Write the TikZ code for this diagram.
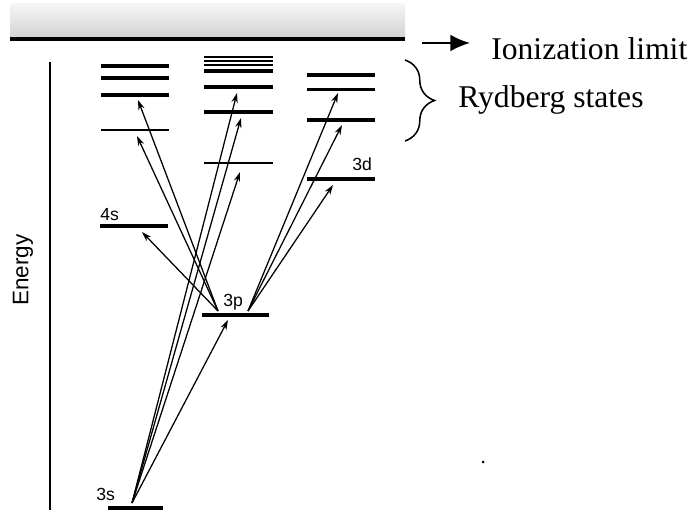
\documentclass[tikz,border=0pt]{standalone}
\usepackage{fontspec}
\setmainfont{Liberation Serif}
\setsansfont{Liberation Sans}
\usetikzlibrary{arrows.meta, decorations.pathreplacing}
\tikzset{
  level/.style={line width=2.6pt},
  thinlevel/.style={line width=1.5pt},
  transition/.style={line width=0.9pt, -{Stealth[length=7pt, width=4.5pt]}},
  statelabel/.style={font=\sffamily\fontsize{12.5}{12.5}\selectfont, inner sep=0pt, anchor=base west},
  sidetext/.style={font=\fontsize{22.5}{26}\selectfont, inner sep=0pt, anchor=base west}
}

\begin{document}
\begin{tikzpicture}[x=0.025cm, y=-0.025cm]
  \useasboundingbox (0,0) rectangle (694,510);

  % ── Continuum and ionization limit ──────────────────────────────
  \shade[top color=gray!8, bottom color=gray!35] (10,4) rectangle (405,38);
  \draw[line width=2.6pt] (10,39) -- (405,39);

  % ── Energy axis ─────────────────────────────────────────────────
  \draw[line width=1.1pt] (50,62) -- (50,510);
  \node[font=\sffamily\fontsize{16}{16}\selectfont, rotate=90] (energy) at (23,270) {Energy};

  % ── Levels: s column, p column, d column ────────────────────────
  \foreach \y in {66,78,95}   { \draw[level] (101,\y) -- (169,\y); }
  \draw[thinlevel] (101,130) -- (169,130);
  \draw[level]     (100,226) -- (168,226);
  \foreach \y in {57,61,65} { \draw[line width=1.7pt] (204,\y) -- (273,\y); }
  \foreach \y in {71,87,112} { \draw[level] (204,\y) -- (273,\y); }
  \draw[thinlevel] (204,163) -- (273,163);
  \foreach \y in {75,89.5,120,179} { \draw[level] (307,\y) -- (375,\y); }
  \draw[level] (202,315) -- (269,315);
  \draw[line width=3pt] (108,508) -- (163,508);

  \foreach \lbl/\x/\y in {4s/100/221, 3s/96/500, 3p/223/306, 3d/352/171}
    { \node[statelabel] (lbl\lbl) at (\x,\y) {\lbl}; }

  % ── Transitions ─────────────────────────────────────────────────
  \coordinate (from3s)  at (132,503);
  \coordinate (from3pL) at (218,311);
  \coordinate (from3pR) at (248,311);
  \foreach \name/\x/\y in {to3p/228/320, toPa/240/172, toPb/241/118, toPc/237/93,
                           to4s/142/232, toSa/137/136, toSb/138/100,
                           to3d/333/185, toDa/342/125, toDb/338/93}
    { \coordinate (\name) at (\x,\y); }

  \foreach \src/\dst in {from3s/to3p, from3s/toPa, from3s/toPb, from3s/toPc,
                         from3pL/to4s, from3pL/toSa, from3pL/toSb,
                         from3pR/to3d, from3pR/toDa, from3pR/toDb}
    { \draw[transition] (\src) -- (\dst); }

  % ── Side notes ──────────────────────────────────────────────────
  \coordinate (limitarrow) at (422,43);
  \node[sidetext] (limit) at (491,60) {Ionization limit};
  \draw[line width=1.5pt, -{Latex[length=14pt, width=12pt]}] (limitarrow) -- ++(48,0);

  \draw[line width=1.1pt, decorate, decoration={brace, amplitude=21pt}]
    (405,60) -- (405,141);
  \node[sidetext] (rydberg) at (458,108) {Rydberg states};

  \fill (483,462) circle (1.5);
\end{tikzpicture}
\end{document}
